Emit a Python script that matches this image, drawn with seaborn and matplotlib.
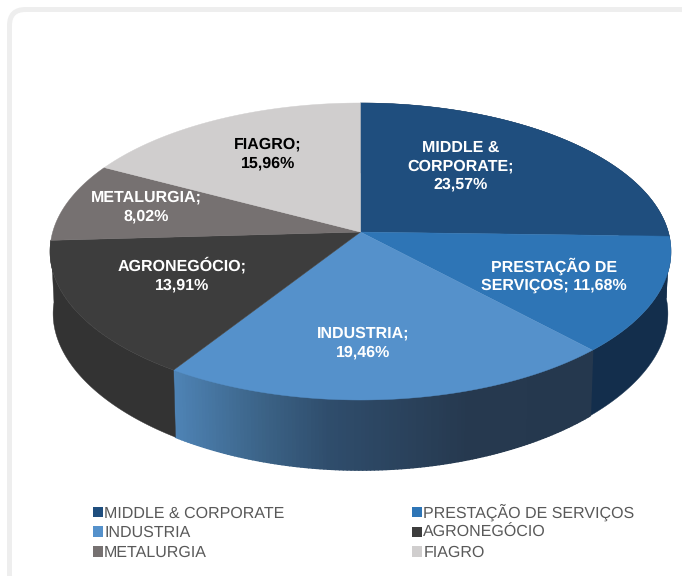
import numpy as np
import matplotlib
matplotlib.use("Agg")
import matplotlib.pyplot as plt
from matplotlib.collections import PolyCollection
from matplotlib.patches import FancyBboxPatch, Patch, Polygon
import seaborn as sns

# --- Data ---
CATEGORIES = ["MIDDLE & CORPORATE", "PRESTAÇÃO DE SERVIÇOS", "INDUSTRIA",
              "AGRONEGÓCIO", "METALURGIA", "FIAGRO"]
VALUES = [23.57, 11.68, 19.46, 13.91, 8.02, 15.96]
LABELS = ["MIDDLE &\nCORPORATE;\n23,57%", "PRESTAÇÃO DE\nSERVIÇOS; 11,68%", "INDUSTRIA;\n19,46%",
          "AGRONEGÓCIO;\n13,91%", "METALURGIA;\n8,02%", "FIAGRO;\n15,96%"]
LABEL_COLORS = ["white", "white", "white", "white", "white", "black"]
TOP_COLORS = ["#1f4e7e", "#2e75b6", "#5591cb", "#3d3d3d", "#767171", "#d0cece"]
# only the first four slices show a wall, INDUSTRIA's is a gradient
SIDE_COLORS = ["#132e4c", "#132e4c", None, "#333333"]

# --- Layout (pixels) ---
CX, CY, RX, RY = 360.5, 251.5, 310.5, 148.5   # ellipse of the top face
TILT = 0.131                                  # how far the apex sits above the ellipse centre
LABEL_XY = [(461, 166), (554, 275), (363, 343), (182, 275), (146, 207), (268, 154)]
GRAD_X = [175, 260, 330, 470, 590]
GRAD_RGB = ["#4e83b5", "#3c6488", "#2f4d6c", "#26394f", "#25384e"]


def project(x, y):
    """Perspective map of the unit disc onto the tilted top face."""
    d = 1 + TILT * y
    u = x * np.sqrt(1 - TILT ** 2) / d
    v = (y + TILT) / d
    return CX + RX * u, CY - RY * v


def bottom_edge(px, py):
    """Lower rim of the wall under a top-face point, a bit shorter and narrower away from the front."""
    u = (px - CX) / RX
    return CX + (px - CX) * 0.99, py + 70 - 8 * u ** 2


sns.set_theme(style="white")
plt.rcParams["font.family"] = ["Liberation Sans", "DejaVu Sans"]
plt.rcParams["text.hinting"] = "none"

fig = plt.figure(figsize=(6.82, 5.76), dpi=100, facecolor="white")
ax = fig.add_axes([0, 0, 1, 1])

# pie gives the slice angles, the slices are then redrawn in perspective
wedges, _ = ax.pie(VALUES, startangle=90, counterclock=False, colors=TOP_COLORS)
angles = [(w.theta1, w.theta2) for w in wedges]
for w in wedges:
    w.remove()

ax.set_aspect("auto")
ax.set_xlim(0, 682)
ax.set_ylim(576, 0)
ax.axis("off")

# card frame, runs off the right and bottom of the picture
ax.add_patch(FancyBboxPatch((9.5, 9.5), 687, 582, boxstyle="round,pad=0,rounding_size=16",
                            fc="white", ec="#eeeeee", lw=3.6, zorder=0))

# side walls
stops = np.array(sns.color_palette(GRAD_RGB))
for i, side in enumerate(SIDE_COLORS):
    t1, t2 = angles[i]
    theta = np.radians(np.linspace(t1, t2, 120))
    px, py = project(np.cos(theta), np.sin(theta))
    bx, by = bottom_edge(px, py)
    if side is not None:
        pts = list(zip(px, py)) + list(zip(bx, by))[::-1]
        ax.add_patch(Polygon(pts, closed=True, fc=side, ec=side, lw=0.3, zorder=1))
        continue
    quads, colors = [], []
    for j in range(len(theta) - 1):
        quads.append([(px[j], py[j]), (px[j + 1], py[j + 1]), (bx[j + 1], by[j + 1]), (bx[j], by[j])])
        mid = (px[j] + px[j + 1]) / 2
        colors.append([np.interp(mid, GRAD_X, stops[:, c]) for c in range(3)])
    ax.add_collection(PolyCollection(quads, facecolors=colors, edgecolors=colors, linewidths=1.2, zorder=1))

# top face
for i, (t1, t2) in enumerate(angles):
    theta = np.radians(np.linspace(t1, t2, 120))
    px, py = project(np.cos(theta), np.sin(theta))
    ax0, ay0 = project(0.0, 0.0)
    pts = [(ax0, ay0)] + list(zip(px, py))
    ax.add_patch(Polygon(pts, closed=True, fc=TOP_COLORS[i], ec=TOP_COLORS[i], lw=0.3, zorder=2))

for (lx, ly), text, col in zip(LABEL_XY, LABELS, LABEL_COLORS):
    ax.text(lx, ly, text, color=col, fontsize=11.5, fontweight="bold", ha="center", va="center",
            linespacing=1.3, zorder=3)

# legend fills by column, so reorder to read across the rows
order = [0, 2, 4, 1, 3, 5]
handles = [Patch(fc=TOP_COLORS[i], ec="none", label=CATEGORIES[i]) for i in order]
ax.legend(handles=handles, ncol=2, loc="upper left", bbox_to_anchor=(93, 503.5), bbox_transform=ax.transData,
          frameon=False, fontsize=11.5, labelcolor="#595959", handlelength=0.62, handleheight=0.62,
          handletextpad=0.08, labelspacing=0.3, columnspacing=8.0, borderpad=0, borderaxespad=0)

fig.savefig("out.png", dpi=100)
plt.close(fig)
